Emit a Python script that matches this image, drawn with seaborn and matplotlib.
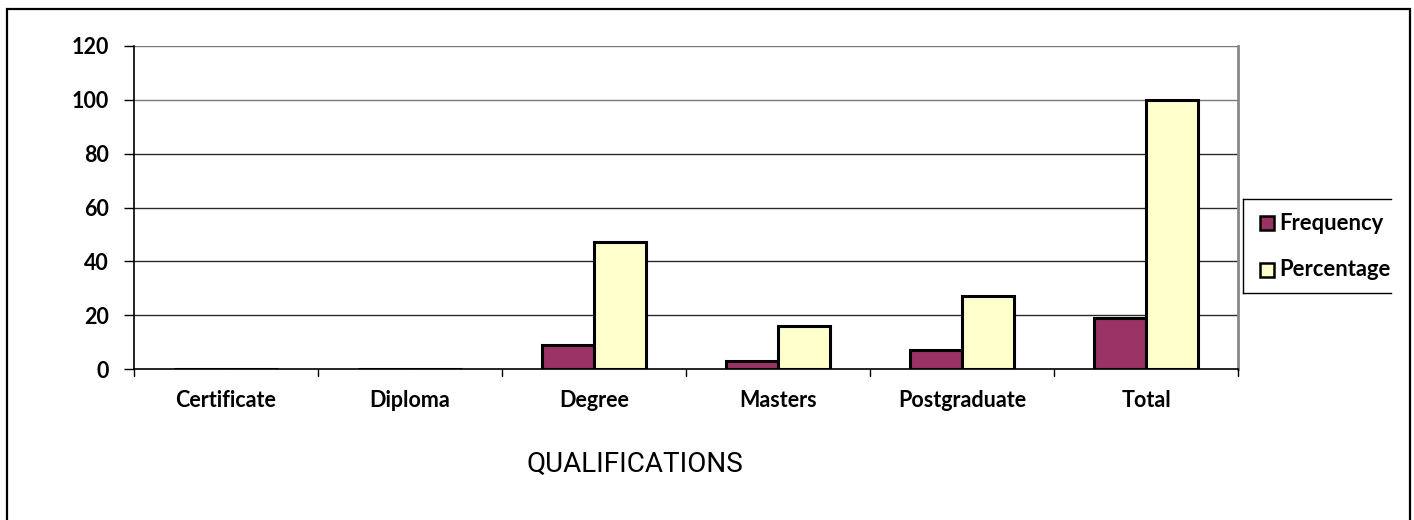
import matplotlib
matplotlib.use("Agg")
import matplotlib.pyplot as plt
from matplotlib.patches import Rectangle
import pandas as pd
import seaborn as sns

# Qualification breakdown
categories = ["Certificate", "Diploma", "Degree", "Masters", "Postgraduate", "Total"]
frequency = [0, 0, 9, 3, 7, 19]
percentage = [0, 0, 47, 16, 27, 100]
series_names = ["Frequency", "Percentage"]
series_colors = ["#993366", "#FFFFCC"]
y_ticks = [0, 20, 40, 60, 80, 100, 120]

df = pd.DataFrame({
    "Qualification": categories * 2,
    "Series": [series_names[0]] * len(categories) + [series_names[1]] * len(categories),
    "Value": frequency + percentage,
})

sns.set_theme(style="white")
plt.rcParams["font.family"] = ["Lato", "DejaVu Sans"]

W, H = 1414, 520
fig = plt.figure(figsize=(W / 100, H / 100), dpi=100)

def px_axes(x0, y0, x1, y1):
    return fig.add_axes([x0 / W, 1 - y1 / H, (x1 - x0) / W, (y1 - y0) / H])

ax = px_axes(134, 46, 1238, 369)
sns.barplot(data=df, x="Qualification", y="Value", hue="Series",
            palette=series_colors, order=categories, hue_order=series_names,
            width=0.57, saturation=1, edgecolor="black", linewidth=2.2,
            legend=False, errorbar=None, ax=ax, zorder=3)

ax.set_ylim(0, 120)
ax.set_xlim(-0.5, len(categories) - 0.5)
ax.set_yticks(y_ticks)
ax.set_yticklabels([str(t) for t in y_ticks], fontsize=15.5, fontweight="bold")
ax.set_xticks(range(len(categories)))
ax.set_xticklabels(categories, fontsize=15.5, fontweight="bold")
ax.tick_params(axis="x", length=0, pad=15, colors="black")
ax.tick_params(axis="y", length=7, width=1, direction="out", left=True, pad=11, colors="black")
# tick marks between categories on the x axis
for b in range(len(categories) + 1):
    ax.plot([b - 0.5, b - 0.5], [0, -2.6], color="black", lw=1, clip_on=False, zorder=4)
ax.set_xlabel("")
ax.set_ylabel("")
for t in y_ticks[1:]:
    ax.axhline(t, color="#2a2a2a" if t < 100 else "#7a7a7a", lw=1, zorder=1)
ax.spines["left"].set_color("black")
ax.spines["left"].set_linewidth(1.2)
ax.spines["bottom"].set_color("black")
ax.spines["bottom"].set_linewidth(1.2)
ax.spines["right"].set_color("#888888")
ax.spines["right"].set_linewidth(2)
ax.spines["top"].set_visible(False)

fig.text(635 / W, 1 - 464 / H, "QUALIFICATIONS", family="Roboto", fontsize=20,
         ha="center", va="center", color="black")

# Legend box, cut off at the right edge of the chart area
lax = px_axes(1243, 199, 1391, 293)
lax.set_xlim(1243, 1391)
lax.set_ylim(293, 199)
lax.set_xticks([])
lax.set_yticks([])
for s in ["left", "top", "bottom"]:
    lax.spines[s].set_color("black")
    lax.spines[s].set_linewidth(1)
lax.spines["right"].set_visible(False)
lax.patch.set_alpha(0)
for name, color, yc in zip(series_names, series_colors, [223, 270]):
    lax.add_patch(Rectangle((1260, yc - 7), 14, 14, facecolor=color,
                            edgecolor="black", lw=1.8, zorder=3))
    lax.text(1279, yc, name, fontsize=15.8, fontweight="bold", ha="left",
             va="center", clip_on=True, color="black")

# Outer chart frame
fig.add_artist(Rectangle((7 / W, -0.02), 1403 / W, (H - 9) / H + 0.02,
                         transform=fig.transFigure, fill=False,
                         edgecolor="black", lw=1.6, clip_on=False))

fig.savefig("out.png", dpi=100)
